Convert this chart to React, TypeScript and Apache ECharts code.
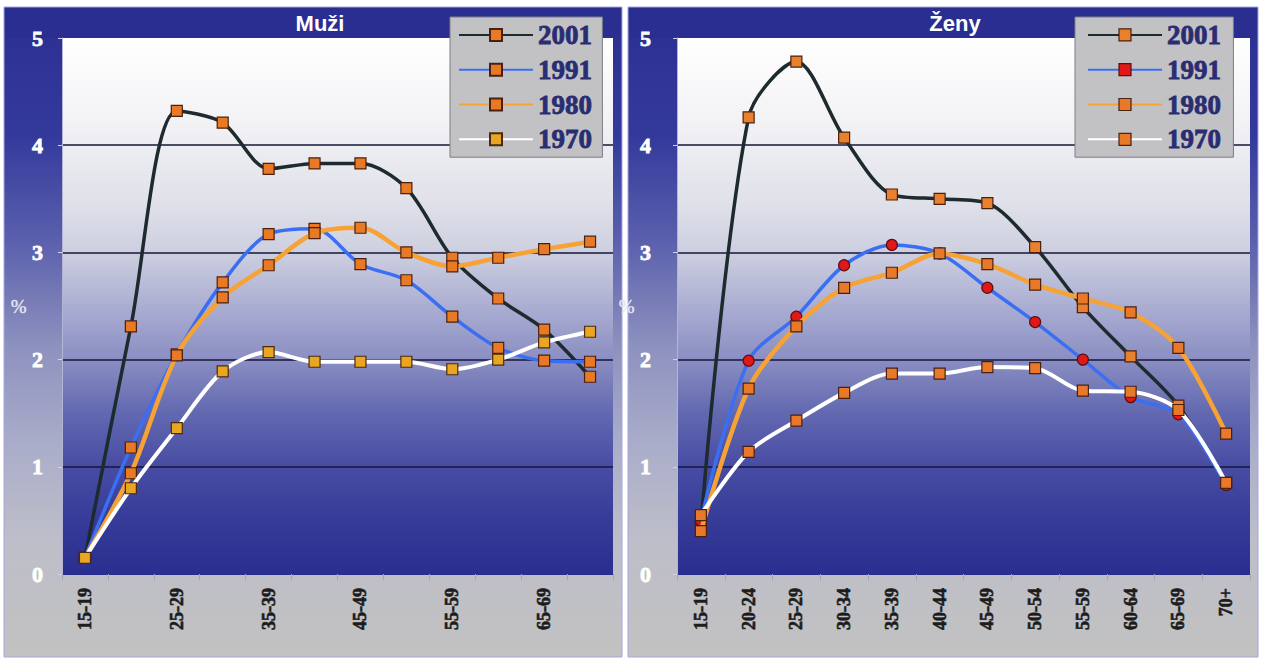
import React, { useEffect, useRef } from 'react';
import * as echarts from 'echarts';

const ageGroups = ['15-19', '20-24', '25-29', '30-34', '35-39', '40-44', '45-49', '50-54', '55-59', '60-64', '65-69', '70+'];
const years = ['2001', '1991', '1980', '1970'];

// Muži (men), % by age group
const men2001 = [0.15, 2.31, 4.32, 4.21, 3.78, 3.83, 3.83, 3.6, 2.95, 2.57, 2.28, 1.84];
const men1991 = [0.15, 1.18, 2.05, 2.72, 3.17, 3.22, 2.89, 2.74, 2.4, 2.11, 1.99, 1.98];
const men1980 = [0.15, 0.94, 2.04, 2.58, 2.88, 3.18, 3.23, 3.0, 2.87, 2.95, 3.03, 3.1];
const men1970 = [0.15, 0.8, 1.36, 1.89, 2.07, 1.98, 1.98, 1.98, 1.91, 2.0, 2.16, 2.26];

// Ženy (women), % by age group
const women2001 = [0.45, 4.26, 4.78, 4.07, 3.54, 3.5, 3.46, 3.05, 2.49, 2.03, 1.57, 0.85];
const women1991 = [0.5, 1.99, 2.4, 2.88, 3.07, 2.99, 2.67, 2.35, 2.0, 1.65, 1.49, 0.83];
const women1980 = [0.4, 1.73, 2.31, 2.67, 2.81, 2.99, 2.89, 2.7, 2.57, 2.44, 2.11, 1.31];
const women1970 = [0.55, 1.14, 1.43, 1.69, 1.87, 1.87, 1.93, 1.92, 1.71, 1.7, 1.53, 0.85];

const yTicks = [0, 1, 2, 3, 4, 5];

const SERIF = 'Liberation Serif';

export default function App() {
  const ref = useRef<HTMLDivElement>(null);

  useEffect(() => {
    if (!ref.current) return;
    const chart = echarts.init(ref.current, null, { renderer: 'svg' });

    const lineColors = ['#1e2b2e', '#3b6ff2', '#f7a234', '#ffffff'];
    const lineWidths = [3.5, 3.5, 4.5, 4];
    const menMarker = [
      { symbol: 'rect', fill: '#e87a26', border: '#4a2010' },
      { symbol: 'rect', fill: '#e87a26', border: '#4a2010' },
      { symbol: 'rect', fill: '#e87a26', border: '#4a2010' },
      { symbol: 'rect', fill: '#e9a623', border: '#4a2a10' },
    ];
    const womenMarker = [
      { symbol: 'rect', fill: '#e8802e', border: '#4a2010' },
      { symbol: 'circle', fill: '#e01818', border: '#5a1010' },
      { symbol: 'rect', fill: '#e8782a', border: '#4a2010' },
      { symbol: 'rect', fill: '#e8782a', border: '#4a2010' },
    ];
    const menData = [men2001, men1991, men1980, men1970];
    const womenData = [women2001, women1991, women1980, women1970];

    const mkSeries = (gridIdx: number, datas: number[][], markers: any[]) =>
      years.map((y, i) => ({
        type: 'line',
        name: y,
        xAxisIndex: gridIdx,
        yAxisIndex: gridIdx,
        data: datas[i],
        smooth: 0.3,
        symbol: markers[i].symbol,
        symbolSize: 11,
        lineStyle: { color: lineColors[i], width: lineWidths[i] },
        itemStyle: { color: markers[i].fill, borderColor: markers[i].border, borderWidth: 1.2 },
        z: 2 + i,
      }));

    const plotGradient = new echarts.graphic.LinearGradient(0, 0, 0, 1, [
      { offset: 0, color: '#ffffff' },
      { offset: 0.15, color: '#f3f3f6' },
      { offset: 0.3, color: '#e1e2ea' },
      { offset: 0.4, color: '#cdcfe0' },
      { offset: 0.5, color: '#abaed2' },
      { offset: 0.6, color: '#8a8ec2' },
      { offset: 0.7, color: '#6268b0' },
      { offset: 0.8, color: '#474ca3' },
      { offset: 0.9, color: '#363b98' },
      { offset: 1, color: '#2a2e8e' },
    ]);
    const panelGradient = () =>
      new echarts.graphic.LinearGradient(0, 0, 0, 1, [
        { offset: 0, color: '#2a2e90' },
        { offset: 0.2, color: '#343a9c' },
        { offset: 0.36, color: '#5a60ac' },
        { offset: 0.52, color: '#8d91be' },
        { offset: 0.68, color: '#abaeca' },
        { offset: 0.82, color: '#bdbec8' },
        { offset: 1, color: '#c2c2c2' },
      ]);

    const yAxisCommon = (nameGap: number, labelMargin: number) => ({
      type: 'value',
      min: 0,
      max: 5,
      interval: 1,
      name: '%',
      nameLocation: 'middle',
      nameRotate: 0,
      nameGap,
      nameTextStyle: { color: '#e6e6f2', fontFamily: SERIF, fontSize: 19, textBorderColor: '#e6e6f2', textBorderWidth: 0.4 },
      axisLine: { show: true, lineStyle: { color: '#b4b4d4', width: 1 } },
      axisTick: { show: true, length: 4, lineStyle: { color: '#d0d0ec' } },
      axisLabel: {
        color: '#ffffff',
        fontFamily: SERIF,
        fontWeight: 'bold',
        fontSize: 22,
        margin: labelMargin,
        textBorderColor: '#ffffff',
        textBorderWidth: 0.8,
        formatter: (v: number) => (yTicks.includes(v) ? String(v) : ''),
      },
      splitLine: { show: true, showMinLine: false, showMaxLine: false, lineStyle: { color: '#14163a', width: 1.6 } },
    });

    const xAxisCommon = (interval: number) => ({
      type: 'category',
      data: ageGroups,
      boundaryGap: true,
      axisLine: { show: true, lineStyle: { color: '#2a2e8e', width: 1 } },
      axisTick: { show: true, interval: 0, length: 6, lineStyle: { color: '#a4a6bc' } },
      axisLabel: {
        interval,
        rotate: 90,
        margin: 14,
        color: '#1c1c1c',
        fontFamily: SERIF,
        fontWeight: 'bold',
        fontSize: 18,
        textBorderColor: '#1c1c1c',
        textBorderWidth: 0.6,
      },
    });

    const legendText = {
      color: '#2a2d72',
      fontFamily: SERIF,
      fontWeight: 'bold',
      fontSize: 27,
      lineHeight: 23,
      textBorderColor: '#2a2d72',
      textBorderWidth: 0.8,
    };
    const legendBase = {
      orient: 'vertical',
      top: 17,
      itemWidth: 74,
      itemHeight: 15,
      itemGap: 7,
      backgroundColor: '#c2c2c4',
      borderColor: '#7c7c84',
      borderWidth: 1,
      selectedMode: false,
      textStyle: legendText,
    };

    const option: any = {
      animation: false,
      backgroundColor: '#ffffff',
      graphic: [
        { type: 'rect', z: -5, shape: { x: 4, y: 7, width: 618, height: 650 }, style: { fill: panelGradient(), stroke: '#a6a6de', lineWidth: 1 } },
        { type: 'rect', z: -5, shape: { x: 628, y: 7, width: 630, height: 650 }, style: { fill: panelGradient(), stroke: '#a6a6de', lineWidth: 1 } },
        { type: 'rect', z: -4, shape: { x: 5, y: 8, width: 616, height: 30 }, style: { fill: '#2a2e90' } },
        { type: 'rect', z: -4, shape: { x: 629, y: 8, width: 628, height: 30 }, style: { fill: '#2a2e90' } },
        {
          type: 'text', z: 10, x: 320, y: 23,
          style: { text: 'Muži', fill: '#ffffff', font: 'bold 22px Liberation Sans, Arial, sans-serif', textAlign: 'center', textVerticalAlign: 'middle' },
        },
        {
          type: 'text', z: 10, x: 955, y: 23,
          style: { text: 'Ženy', fill: '#ffffff', font: 'bold 22px Liberation Sans, Arial, sans-serif', textAlign: 'center', textVerticalAlign: 'middle' },
        },
      ],
      grid: [
        { left: 62, right: 1261 - 613, top: 38, bottom: 88, show: true, backgroundColor: plotGradient, borderWidth: 0 },
        { left: 677, right: 11, top: 38, bottom: 88, show: true, backgroundColor: plotGradient, borderWidth: 0 },
      ],
      xAxis: [
        { ...xAxisCommon(1), gridIndex: 0 },
        { ...xAxisCommon(0), gridIndex: 1 },
      ],
      yAxis: [
        { ...yAxisCommon(16, 19), gridIndex: 0 },
        { ...yAxisCommon(13, 26), gridIndex: 1 },
      ],
      legend: [
        {
          ...legendBase,
          left: 450,
          padding: [4, 10, 4, 8],
          data: years,
        },
        {
          ...legendBase,
          left: 1075,
          padding: [4, 12, 4, 12],
          data: years.map((y, i) => ({
            name: y,
            itemStyle: { color: womenMarker[i].fill, borderColor: womenMarker[i].border, borderWidth: 1.2 },
          })),
        },
      ],
      series: [...mkSeries(0, menData, menMarker), ...mkSeries(1, womenData, womenMarker)],
    };

    chart.setOption(option);
    return () => chart.dispose();
  }, []);

  return (
    <div
      ref={ref}
      style={{ position: 'fixed', left: 0, top: 0, width: 1261, height: 662, background: '#ffffff' }}
    />
  );
}
